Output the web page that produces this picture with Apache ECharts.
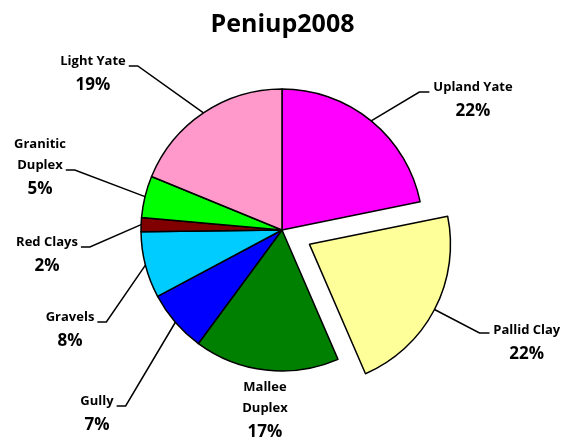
<!DOCTYPE html>
<html>
<head>
<meta charset="utf-8">
<script src="https://cdn.jsdelivr.net/npm/echarts@6/dist/echarts.min.js"></script>
<style>
  html, body { margin: 0; padding: 0; background: #fff; }
  #main { width: 565px; height: 439px; }
</style>
</head>
<body>
<div id="main"></div>
<script>
// soil types, clockwise from 12 o'clock
const names = ['Upland Yate', 'Pallid Clay', 'Mallee\nDuplex', 'Gully', 'Gravels', 'Red Clays', 'Granitic\nDuplex', 'Light Yate'];
const values = [21.8, 21.7, 16.6, 7.1, 7.6, 1.6, 4.8, 18.8];
const colors = ['#ff00ff', '#ffff99', '#008000', '#0000ff', '#00ccff', '#800000', '#00ff00', '#ff99cc'];
const exploded = ['Pallid Clay'];

// where each label block sits: [centre x, top y, side the leader line comes from]
const labelPos = [
  [473, 77, 'right'], [527, 318, 'right'], [265, 377, 'none'], [97, 391, 'left'],
  [70, 307, 'left'], [47, 232, 'left'], [40, 134, 'left'], [93, 51, 'left']
];

const OFFSET = 31;
const NAME_LH = 21;
const total = values.reduce((a, b) => a + b, 0);

// the selected slice (and its label) gets shifted along its mid angle
function selectShift(i) {
  if (exploded.indexOf(names[i]) < 0) return [0, 0];
  let before = 0;
  for (let k = 0; k < i; k++) before += values[k];
  const mid = (before + values[i] / 2) / total * Math.PI * 2;
  return [Math.sin(mid) * OFFSET, -Math.cos(mid) * OFFSET];
}

const NAME_FONT = 'bold 13px "Open Sans"';
const ctx = document.createElement('canvas').getContext('2d');
function lastLineWidth(name) {
  ctx.font = NAME_FONT;
  const lines = name.split('\n');
  return ctx.measureText(lines[lines.length - 1]).width;
}

const chart = echarts.init(document.getElementById('main'));
const option = {
  backgroundColor: '#fff',
  title: {
    text: 'Peniup2008',
    left: 'center',
    top: 7,
    textStyle: { fontFamily: 'Open Sans', fontWeight: 'bold', fontSize: 25, color: '#000' }
  },
  series: [{
    type: 'pie',
    center: [282, 230],
    radius: 141,
    startAngle: 90,
    clockwise: true,
    selectedMode: 'single',
    selectedOffset: OFFSET,
    avoidLabelOverlap: false,
    itemStyle: { borderColor: '#000', borderWidth: 1.5 },
    emphasis: { disabled: true },
    label: {
      color: '#000',
      formatter: p => '{n|' + p.name.split('\n').join('}\n{n|') + '}\n{p|' + Math.round(p.value / total * 100) + '%}',
      rich: {
        n: { fontFamily: 'Open Sans', fontWeight: 'bold', fontSize: 13, lineHeight: NAME_LH, align: 'center', color: '#000' },
        p: { fontFamily: 'Open Sans', fontWeight: 'bold', fontSize: 17, lineHeight: 26, align: 'center', color: '#000' }
      }
    },
    labelLine: { length: 25, length2: 10, lineStyle: { color: '#000', width: 1.5 } },
    labelLayout: function (params) {
      const i = params.dataIndex;
      const pos = labelPos[i];
      const name = names[i];
      const sh = selectShift(i);
      const cx = pos[0] - sh[0];
      const top = pos[1] - sh[1];
      const nLines = name.split('\n').length;
      const lineY = top + NAME_LH * (nLines - 1) + 15;
      const w = lastLineWidth(name);
      const edge = params.labelLinePoints ? params.labelLinePoints[0] : [cx, top];
      let pts;
      if (pos[2] === 'left') {
        const endX = cx + w / 2 + 3;
        pts = [edge, [endX + 9, lineY], [endX, lineY]];
      } else if (pos[2] === 'right') {
        const endX = cx - w / 2 - 4;
        pts = [edge, [endX - 10, lineY], [endX, lineY]];
      } else {
        pts = [edge, edge, edge];
      }
      // the exploded slice keeps the pie's own label spot (select state pins it)
      if (sh[0] !== 0 || sh[1] !== 0) {
        return { labelLinePoints: pts };
      }
      return {
        x: cx,
        y: top,
        align: 'center',
        verticalAlign: 'top',
        labelLinePoints: pts
      };
    },
    data: names.map((n, i) => {
      const item = {
        name: n,
        value: values[i],
        selected: exploded.indexOf(n) >= 0,
        itemStyle: { color: colors[i] },
        labelLine: { show: labelPos[i][2] !== 'none' }
      };
      if (item.selected) {
        item.labelLine.length = 73;
        item.labelLine.length2 = 0;
        item.label = { distanceToLabelLine: -6 };
      }
      return item;
    })
  }]
};
chart.setOption(option);
</script>
</body>
</html>
